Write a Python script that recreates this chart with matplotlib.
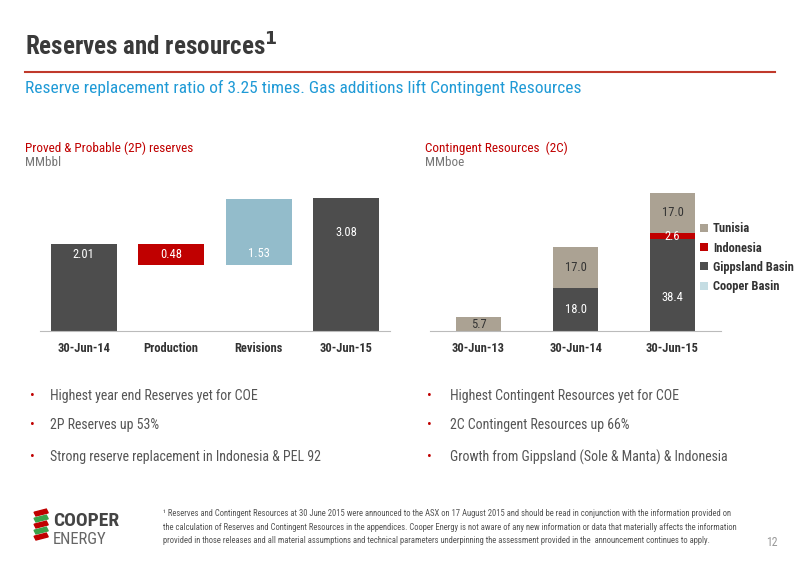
import matplotlib
matplotlib.use("Agg")
import matplotlib.pyplot as plt
from matplotlib.patches import Rectangle
from matplotlib import font_manager

names = {f.name for f in font_manager.fontManager.ttflist}
NARROW = ['Liberation Sans Narrow', 'Roboto Condensed', 'Liberation Sans', 'DejaVu Sans']
NARROW = [n for n in NARROW if n in names] + ['DejaVu Sans']
plt.rcParams['font.family'] = NARROW

# Left: 2P waterfall
wf_cats = ["30-Jun-14", "Production", "Revisions", "30-Jun-15"]
wf_vals = [2.01, -0.48, 1.53, 3.08]
wf_labels = ["2.01", "0.48", "1.53", "3.08"]

# Right: 2C stacked
c_cats = ["30-Jun-13", "30-Jun-14", "30-Jun-15"]
cooper = [0.0, 0.0, 0.0]
gippsland = [0.0, 18.0, 38.4]
indonesia = [0.0, 0.0, 2.6]
tunisia = [5.7, 17.0, 17.0]

DARK = "#4d4d4d"; RED = "#c00000"; LBLUE = "#93bccb"; TAN = "#aba293"; CB = "#c5dde3"

fig = plt.figure(figsize=(8, 5.66), dpi=100)
fig.patch.set_facecolor("white")

def px(x, y):
    return x / 800, 1 - y / 566

# Header
fig.text(*px(25, 47), r"Reserves and resources$^{\mathbf{1}}$", fontsize=18, fontweight="bold", color="#3a3a3a", va="center")
fig.add_artist(plt.Line2D([25/800, 775/800], [1-72/566]*2, color="#c0392b", lw=1.5))
fig.text(*px(25, 88), "Reserve replacement ratio of 3.25 times. Gas additions lift Contingent Resources",
         fontsize=12.5, color="#1f9ad6", va="center")

fig.text(*px(25, 148), "Proved & Probable (2P) reserves", fontsize=9.5, color="#c00000", va="center")
fig.text(*px(25, 163), "MMbbl", fontsize=9.5, color="#777777", va="center")
fig.text(*px(425, 148), "Contingent Resources  (2C)", fontsize=9.5, color="#c00000", va="center")
fig.text(*px(425, 163), "MMboe", fontsize=9.5, color="#777777", va="center")

# Left chart
ax1 = fig.add_axes([40/800, 1-331/566, 350/800, 148/566])
bottoms, heights = [], []
run = 0
for i, v in enumerate(wf_vals):
    if i == 0 or i == len(wf_vals) - 1:
        bottoms.append(0); heights.append(v); run = v
    else:
        if v < 0:
            bottoms.append(run + v); heights.append(-v)
        else:
            bottoms.append(run); heights.append(v)
        run += v
colors = [DARK, RED, LBLUE, DARK]
ax1.bar(range(4), heights, bottom=bottoms, width=0.75, color=colors)
for i in range(4):
    if i == 0:
        y = heights[0] - 0.25
    elif i == 3:
        y = heights[3] - 0.8
    else:
        y = bottoms[i] + heights[i] / 2 if i == 1 else bottoms[i] + 0.25
    ax1.text(i, y, wf_labels[i], ha="center", va="center", fontsize=9, color="white")
ax1.set_xlim(-0.5, 3.5); ax1.set_ylim(0, 3.42)
ax1.set_xticks(range(4)); ax1.set_xticklabels(wf_cats, fontsize=9, fontweight="bold", color="#333333")
ax1.tick_params(axis="x", length=0, pad=8)
ax1.set_yticks([])
for s in ["top", "right", "left"]:
    ax1.spines[s].set_visible(False)
ax1.spines["bottom"].set_color("#bbbbbb")

# Right chart
ax2 = fig.add_axes([430/800, 1-331/566, 291/800, 148/566])
x = range(3)
b = [0]*3
series = [("Cooper Basin", cooper, CB), ("Gippsland Basin", gippsland, DARK),
          ("Indonesia", indonesia, RED), ("Tunisia", tunisia, TAN)]
handles = {}
for name, vals, col in series:
    h = ax2.bar(x, vals, bottom=b, width=0.47, color=col, label=name)
    handles[name] = h
    for i, v in enumerate(vals):
        if v > 0:
            tc = "white" if col in (DARK, RED) else "#333333"
            yy = b[i] + v / 2
            if name == "Gippsland Basin" and i == 2:
                yy = b[i] + 14
            ax2.text(i, yy, f"{v:.1f}", ha="center", va="center", fontsize=9, color=tc)
    b = [b[i] + vals[i] for i in range(3)]
ax2.set_xlim(-0.5, 2.5); ax2.set_ylim(0, 62)
ax2.set_xticks(list(x)); ax2.set_xticklabels(c_cats, fontsize=9, fontweight="bold", color="#333333")
ax2.tick_params(axis="x", length=0, pad=8)
ax2.set_yticks([])
for s in ["top", "right", "left"]:
    ax2.spines[s].set_visible(False)
ax2.spines["bottom"].set_color("#bbbbbb")
order = ["Tunisia", "Indonesia", "Gippsland Basin", "Cooper Basin"]
leg = fig.legend([handles[n] for n in order], order, loc="upper left", bbox_to_anchor=(694/800, 1-216/566),
                 frameon=False, fontsize=9, handlelength=0.6, handleheight=0.6, handletextpad=0.4,
                 labelspacing=0.5, borderpad=0)
for t in leg.get_texts():
    t.set_fontweight("bold"); t.set_color("#333333")

# Bullets
lb = ["Highest year end Reserves yet for COE", "2P Reserves up 53%",
      "Strong reserve replacement in Indonesia & PEL 92"]
rb = ["Highest Contingent Resources yet for COE", "2C Contingent Resources up 66%",
      "Growth from Gippsland (Sole & Manta) & Indonesia"]
for yy, a, c in zip([396, 425, 457], lb, rb):
    fig.text(*px(30, yy), "•", fontsize=10, color="#c00000", va="center")
    fig.text(*px(50, yy), a, fontsize=10, color="#555555", va="center")
    fig.text(*px(427, yy), "•", fontsize=10, color="#c00000", va="center")
    fig.text(*px(450, yy), c, fontsize=10, color="#555555", va="center")

# Footnote
foot = ("¹ Reserves and Contingent Resources at 30 June 2015 were announced to the ASX on 17 August 2015 and should be read in conjunction with the information provided on\n"
        "the calculation of Reserves and Contingent Resources in the appendices. Cooper Energy is not aware of any new information or data that materially affects the information\n"
        "provided in those releases and all material assumptions and technical parameters underpinning the assessment provided in the  announcement continues to apply.")
fig.text(*px(163, 527), foot, fontsize=6.2, color="#555555", va="center", linespacing=1.6)
fig.text(*px(778, 542), "12", fontsize=8.5, color="#999999", va="center", ha="right")

# Logo
for i, col in enumerate(["#c00000", "#3aa34a", "#c00000", "#3aa34a", "#c00000"]):
    fig.add_artist(Rectangle(px(36, 516 + i * 6), 13/800, 4/566, transform=fig.transFigure,
                             color=col, angle=20))
fig.text(*px(53, 521), "COOPER", fontsize=14, fontweight="bold", color="#444444", va="center")
fig.text(*px(53, 540), "ENERGY", fontsize=12, color="#666666", va="center")

fig.savefig("out.png", dpi=100)
